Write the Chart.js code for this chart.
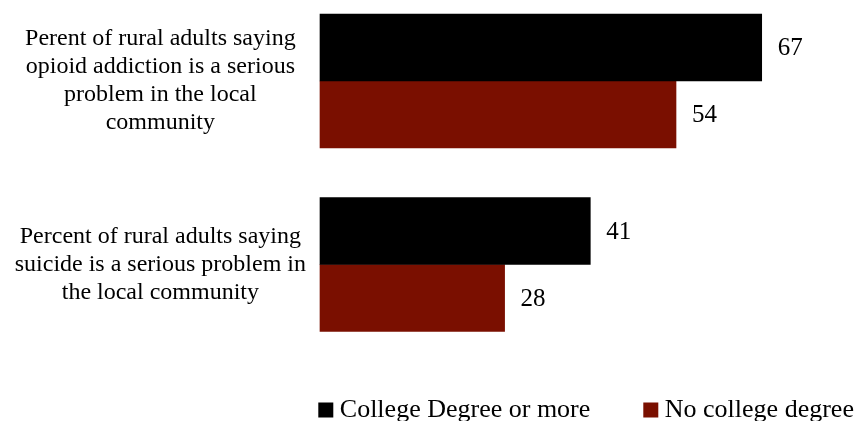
<!DOCTYPE html>
<html>
<head>
<meta charset="utf-8">
<script src="https://cdn.jsdelivr.net/npm/chart.js@4.4.1/dist/chart.umd.min.js"></script>
<style>
  html,body{margin:0;padding:0;background:#fff;}
  #wrap{width:854px;height:421px;position:relative;}
</style>
</head>
<body>
<div id="wrap"><canvas id="chart"></canvas></div>
<script>
// data
const categories = [
  ['Perent of rural adults saying','opioid addiction is a serious','problem in the local','community'],
  ['Percent of rural adults saying','suicide is a serious problem in','the local community']
];
const seriesNames = ['College Degree or more','No college degree'];
const collegeValues = [67, 41];
const noCollegeValues = [54, 28];
const seriesColors = ['#000000','#7a0f00'];

const FONT = '"Liberation Serif", "Times New Roman", serif';
Chart.defaults.font.family = FONT;
Chart.defaults.color = '#000';

// legend geometry: box1 left edge at 318, box2 left edge at 643
const LEG_FS = 26, LEG_BW = 2, LEG_SQ = 15;
const mctx = document.createElement('canvas').getContext('2d');
mctx.font = 'normal ' + LEG_FS + 'px ' + FONT;
const legW = seriesNames.map(t => LEG_BW + LEG_FS/2 + mctx.measureText(t).width);
const x1 = 318 + LEG_SQ/2 - LEG_BW/2;
const legPad = (643 - 318) - legW[0];
const legRight = x1 + legW[0] + legPad + legW[1] + legPad + 0.3;

// value labels at the end of each bar
const valueLabels = {
  id:'valueLabels',
  afterDatasetsDraw(chart){
    const ctx = chart.ctx;
    ctx.save();
    ctx.font = '25px ' + FONT;
    ctx.fillStyle = '#000';
    ctx.textAlign = 'left';
    ctx.textBaseline = 'middle';
    chart.data.datasets.forEach((ds,i)=>{
      chart.getDatasetMeta(i).data.forEach((bar,j)=>{
        ctx.fillText(String(ds.data[j]), bar.x + 16, bar.y + 1);
      });
    });
    ctx.restore();
  }
};

new Chart(document.getElementById('chart'), {
  type:'bar',
  data:{
    labels:categories,
    datasets:[
      {label:seriesNames[0], data:collegeValues, backgroundColor:seriesColors[0], barThickness:67, clip:false},
      {label:seriesNames[1], data:noCollegeValues, backgroundColor:seriesColors[1], barThickness:67, clip:false}
    ]
  },
  options:{
    indexAxis:'y',
    responsive:true,
    maintainAspectRatio:false,
    animation:false,
    layout:{padding:{top:81, left:0, right:854 - legRight, bottom:-12}},
    scales:{
      y:{
        offset:false,
        grid:{display:false, drawTicks:false},
        border:{display:false},
        ticks:{crossAlign:'center', padding:14, color:'#000', font:{size:24, lineHeight:1.17}},
        afterFit(s){ s.width = 320; }
      },
      x:{
        min:0, max:81,
        grid:{display:false, drawTicks:false},
        border:{display:false},
        ticks:{display:false},
        afterFit(s){ s.height = 73; }
      }
    },
    plugins:{
      tooltip:{enabled:false},
      legend:{
        position:'bottom',
        align:'end',
        labels:{usePointStyle:true, pointStyle:'rect', boxWidth:LEG_BW, boxHeight:LEG_SQ,
                padding:legPad, color:'#000', font:{size:LEG_FS}}
      }
    }
  },
  plugins:[valueLabels]
});
</script>
</body>
</html>
